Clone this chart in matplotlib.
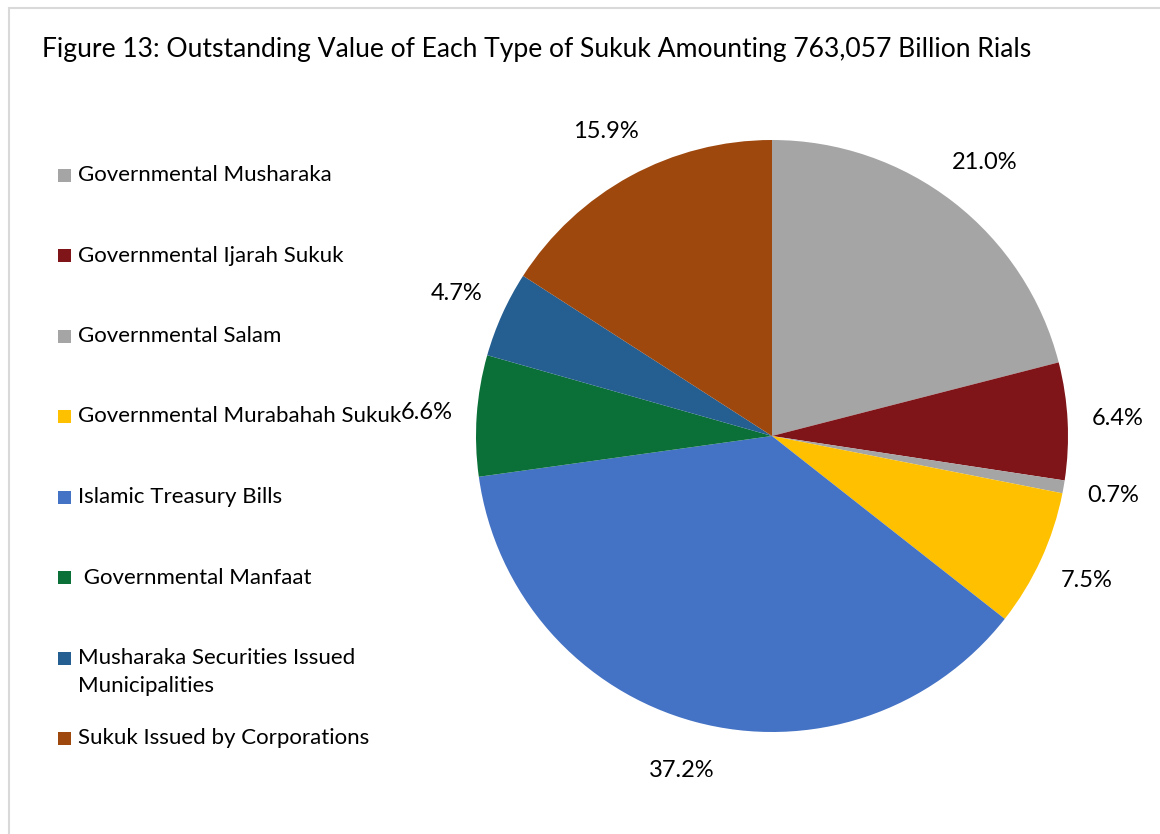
import matplotlib
matplotlib.use("Agg")
import matplotlib.pyplot as plt
from matplotlib.patches import Rectangle

plt.rcParams['font.family'] = ['Lato', 'DejaVu Sans']

# data
labels = ["Governmental Musharaka", "Governmental Ijarah Sukuk", "Governmental Salam",
          "Governmental Murabahah Sukuk", "Islamic Treasury Bills", " Governmental Manfaat",
          "Musharaka Securities Issued\nMunicipalities", "Sukuk Issued by Corporations"]
shares = [21.0, 6.4, 0.7, 7.5, 37.2, 6.6, 4.7, 15.9]
colors = ["#A5A5A5", "#7F1419", "#A5A5A5", "#FFC000", "#4472C4", "#0A7038", "#255E91", "#9E480E"]
title = "Figure 13: Outstanding Value of Each Type of Sukuk Amounting 763,057 Billion Rials"

W, H = 1160, 834
fig = plt.figure(figsize=(W / 100, H / 100), dpi=100)

# outer frame (only left/top visible in the crop)
fig.add_artist(Rectangle((9 / W, -0.1), 1.2, 1.1 - 8 / H, transform=fig.transFigure,
                         fill=False, edgecolor="#D9D9D9", linewidth=1.5))

fig.text(42 / W, 1 - 50 / H, title, fontsize=19.1, va="center", ha="left", color="#000000")

# pie
cx, cy, r = 772, 436, 296
ax = fig.add_axes([(cx - r) / W, (H - cy - r) / H, 2 * r / W, 2 * r / H])
wedges, texts, autotexts = ax.pie(shares, colors=colors, startangle=90, counterclock=False,
                                  radius=1, autopct="%.1f%%", pctdistance=1.17,
                                  wedgeprops=dict(linewidth=0),
                                  textprops=dict(fontsize=17, color="#000000"))
ax.set_xlim(-1, 1)
ax.set_ylim(-1, 1)
ax.set_aspect("equal")
ax.axis("off")

# legend drawn by hand on the left
y0, step, line_h = 175, 80.5, 28
for i, (lab, col) in enumerate(zip(labels, colors)):
    y = y0 + step * i
    fig.add_artist(Rectangle((58 / W, 1 - (y + 6.5) / H), 13 / W, 13 / H,
                             transform=fig.transFigure, facecolor=col, edgecolor="none"))
    for k, part in enumerate(lab.split("\n")):
        fig.text(78 / W, 1 - (y + k * line_h) / H, part, fontsize=16, va="center", ha="left")

fig.savefig("out.png", dpi=100)
